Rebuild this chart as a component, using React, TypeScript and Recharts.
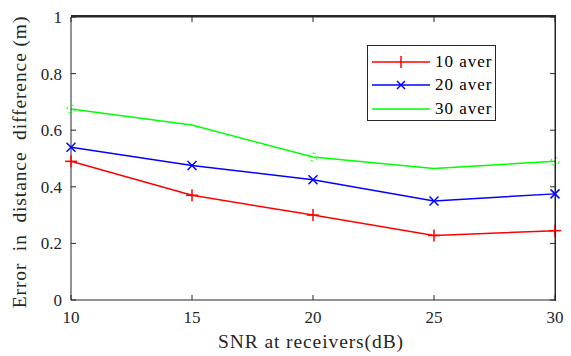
import React from 'react';
import { LineChart, Line, XAxis, YAxis, Label } from 'recharts';

const snr = [10, 15, 20, 25, 30];
const aver10 = [0.49, 0.37, 0.3, 0.228, 0.245];
const aver20 = [0.54, 0.475, 0.425, 0.35, 0.375];
const aver30 = [0.675, 0.618, 0.505, 0.465, 0.49];
const xTicks = [10, 15, 20, 25, 30];
const yTicks = [0, 0.2, 0.4, 0.6, 0.8, 1];

const data = snr.map((s, i) => ({ snr: s, a10: aver10[i], a20: aver20[i], a30: aver30[i] }));

const FONT = 'Liberation Serif';
const AXIS = '#262626';

const PlusDot = (props: any) => {
  const { cx, cy } = props;
  if (cx == null || cy == null) return null;
  return (
    <g stroke="#ff0000" strokeWidth={1.5}>
      <line x1={cx - 6} y1={cy} x2={cx + 6} y2={cy} />
      <line x1={cx} y1={cy - 6} x2={cx} y2={cy + 6} />
    </g>
  );
};

const CrossDot = (props: any) => {
  const { cx, cy } = props;
  if (cx == null || cy == null) return null;
  return (
    <g stroke="#0000ff" strokeWidth={1.5}>
      <line x1={cx - 4.5} y1={cy - 4.5} x2={cx + 4.5} y2={cy + 4.5} />
      <line x1={cx - 4.5} y1={cy + 4.5} x2={cx + 4.5} y2={cy - 4.5} />
    </g>
  );
};

const CircleDot = (props: any) => {
  const { cx, cy, index } = props;
  if (cx == null || cy == null || index % 2 === 1) return <g />;
  return <circle cx={cx} cy={cy} r={4} fill="none" stroke="#00ff00" strokeWidth={1} strokeDasharray="3 3" />;
};

const legendItems = [
  { label: '10 aver', color: '#ff0000', marker: 'plus' },
  { label: '20 aver', color: '#0000ff', marker: 'cross' },
  { label: '30 aver', color: '#00ff00', marker: 'none' },
];

const LegendBox = () => (
  <div
    style={{
      position: 'absolute',
      left: 367,
      top: 45,
      width: 129,
      height: 76,
      border: '1px solid #262626',
      background: '#fff',
      boxSizing: 'border-box',
      fontFamily: FONT,
      fontSize: 17,
      color: '#000',
      paddingTop: 4,
      zIndex: 3,
    }}
  >
    {legendItems.map((it) => (
      <div key={it.label} style={{ display: 'flex', alignItems: 'center', height: 23.5 }}>
        <svg width={63} height={14} style={{ marginLeft: 4 }}>
          <line x1={0} y1={7} x2={58} y2={7} stroke={it.color} strokeWidth={1.5} />
          {it.marker === 'plus' && (
            <g stroke={it.color} strokeWidth={1.5}>
              <line x1={29} y1={1} x2={29} y2={13} />
            </g>
          )}
          {it.marker === 'cross' && (
            <g stroke={it.color} strokeWidth={1.5}>
              <line x1={25} y1={3} x2={33} y2={11} />
              <line x1={25} y1={11} x2={33} y2={3} />
            </g>
          )}
        </svg>
        <span style={{ letterSpacing: 1 }}>{it.label}</span>
      </div>
    ))}
  </div>
);

export default function App() {
  return (
    <div style={{ position: 'absolute', left: 0, top: 0, width: 571, height: 356, background: '#fff' }}>
      <LineChart width={571} height={356} data={data} margin={{ top: 16, right: 15, left: 0, bottom: 0 }}>
        <XAxis
          dataKey="snr"
          type="number"
          domain={[10, 30]}
          ticks={xTicks}
          height={56}
          stroke={AXIS}
          tickSize={-5}
          tickMargin={16}
          tick={{ fill: '#262626', fontFamily: FONT, fontSize: 17 }}
        >
          <Label
            content={() => (
              <text x={311} y={348} textAnchor="middle" fill="#262626" fontFamily={FONT} fontSize={19.5} letterSpacing={0.9}>
                SNR at receivers(dB)
              </text>
            )}
          />
        </XAxis>
        <XAxis
          xAxisId="top"
          orientation="top"
          dataKey="snr"
          type="number"
          domain={[10, 30]}
          ticks={xTicks}
          height={1}
          stroke={AXIS}
          tickSize={-5}
          tickFormatter={() => ''}
        />
        <YAxis
          type="number"
          domain={[0, 1]}
          ticks={yTicks}
          width={71}
          stroke={AXIS}
          tickSize={-5}
          tickMargin={14}
          tick={{ fill: '#262626', fontFamily: FONT, fontSize: 17 }}
        >
          <Label
            content={() => (
              <text
                transform="translate(26,162) rotate(-90)"
                textAnchor="middle"
                fill="#262626"
                fontFamily={FONT}
                fontSize={19.5}
                letterSpacing={0.9}
                style={{ whiteSpace: 'pre' }}
              >
                {'Error  in  distance  difference (m)'}
              </text>
            )}
          />
        </YAxis>
        <YAxis
          yAxisId="right"
          orientation="right"
          type="number"
          domain={[0, 1]}
          ticks={yTicks}
          width={1}
          stroke={AXIS}
          tickSize={-5}
          tickFormatter={() => ''}
        />
        <Line xAxisId="top" dataKey="a10" stroke="none" dot={false} activeDot={false} legendType="none" isAnimationActive={false} />
        <Line yAxisId="right" dataKey="a10" stroke="none" dot={false} activeDot={false} legendType="none" isAnimationActive={false} />
        <Line dataKey="a10" name="10 aver" stroke="#ff0000" strokeWidth={1.5} dot={<PlusDot />} activeDot={false} isAnimationActive={false} />
        <Line dataKey="a20" name="20 aver" stroke="#0000ff" strokeWidth={1.5} dot={<CrossDot />} activeDot={false} isAnimationActive={false} />
        <Line dataKey="a30" name="30 aver" stroke="#00ff00" strokeWidth={1.5} dot={<CircleDot />} activeDot={false} isAnimationActive={false} />
      </LineChart>
      <div
        style={{
          position: 'absolute',
          left: 71,
          top: 15,
          width: 485,
          height: 286,
          borderTop: '2px solid #262626',
          borderRight: '1px solid #262626',
          boxSizing: 'border-box',
          pointerEvents: 'none',
          zIndex: 2,
        }}
      />
      <LegendBox />
    </div>
  );
}
